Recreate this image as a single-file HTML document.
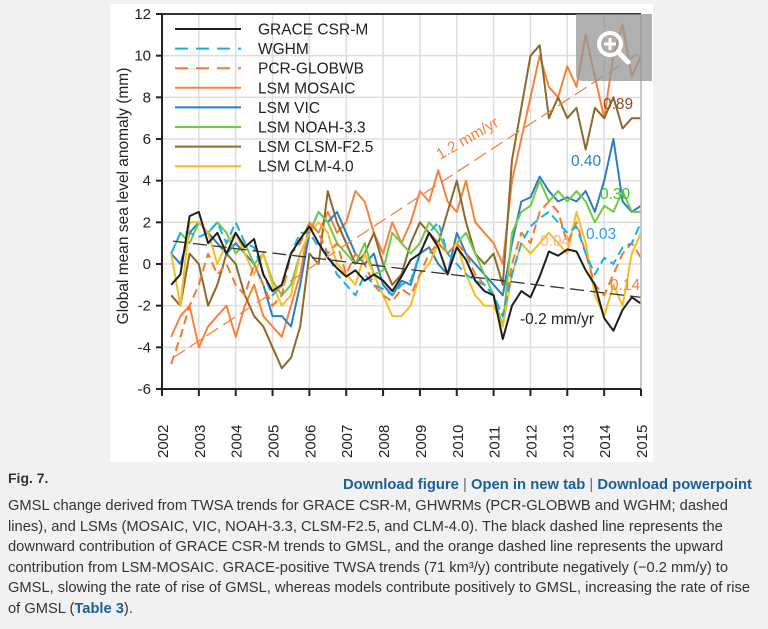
<!DOCTYPE html>
<html><head><meta charset="utf-8"><style>
body{margin:0;width:768px;height:629px;background:#f1f1f1;font-family:"Liberation Sans",Arial,sans-serif;overflow:hidden;position:relative}
#card{position:absolute;left:110px;top:4px;width:543px;height:458px;background:#fff}
svg{position:absolute;left:0;top:0}
.cap{position:absolute;left:8px;font-size:14px;color:#333;white-space:nowrap}
.lnk{color:#1a5f98;font-weight:bold}
</style></head><body>
<div id="card"></div>
<svg id="chart" width="768" height="470"></svg>
<div style="position:absolute;left:576px;top:14px;width:76px;height:67px;background:rgba(150,150,150,0.75);border-radius:0 0 0 6px">
<svg width="76" height="67"><circle cx="34" cy="30" r="11" fill="none" stroke="#fff" stroke-width="4"/><line x1="42" y1="38" x2="52" y2="48" stroke="#fff" stroke-width="5" stroke-linecap="round"/><line x1="28" y1="30" x2="40" y2="30" stroke="#fff" stroke-width="3"/><line x1="34" y1="24" x2="34" y2="36" stroke="#fff" stroke-width="3"/></svg></div>
<div class="cap" style="top:470px;font-weight:bold;font-size:14px">Fig. 7.</div>
<div class="cap" style="top:477px;left:343px;font-size:14.8px"><span class="lnk">Download figure</span> <span style="color:#666">|</span> <span class="lnk">Open in new tab</span> <span style="color:#666">|</span> <span class="lnk">Download powerpoint</span></div>
<div style="position:absolute;left:8px;top:496px;width:760px;font-size:14.7px;line-height:20.5px;color:#333">
<div style="white-space:nowrap">GMSL change derived from TWSA trends for GRACE CSR-M, GHWRMs (PCR-GLOBWB and WGHM; dashed</div>
<div style="white-space:nowrap">lines), and LSMs (MOSAIC, VIC, NOAH-3.3, CLSM-F2.5, and CLM-4.0). The black dashed line represents the</div>
<div style="white-space:nowrap">downward contribution of GRACE CSR-M trends to GMSL, and the orange dashed line represents the upward</div>
<div style="white-space:nowrap">contribution from LSM-MOSAIC. GRACE-positive TWSA trends (71 km³/y) contribute negatively (−0.2 mm/y) to</div>
<div style="white-space:nowrap">GMSL, slowing the rate of rise of GMSL, whereas models contribute positively to GMSL, increasing the rate of rise</div>
<div style="white-space:nowrap">of GMSL (<span class="lnk">Table 3</span>).</div>
</div>
<script>
const years=[2002,2003,2004,2005,2006,2007,2008,2009,2010,2011,2012,2013,2014,2015];
const yTicks=[12,10,8,6,4,2,0,-2,-4,-6];
const t0=2002.25, dt=0.25;
const grace=[-1,-0.5,2.3,2.5,1.0,1.5,0.5,1.5,0.8,1.2,-0.5,-1.3,-1.0,0.5,1.2,1.8,1.0,0.3,-0.2,-0.6,-0.3,-0.8,-0.5,-0.8,-1.3,-0.6,0.2,0.5,1.5,0.8,-0.5,0.8,0.2,-0.8,-1.3,-1.5,-3.6,-2.0,-1.3,-1.6,-0.6,0.6,0.4,0.7,0.6,-0.3,-1.0,-2.6,-3.2,-2.2,-1.6,-1.9];
const wghm=[0.5,1.5,1.5,1.3,1.5,2.0,1.0,2.0,1.0,0.8,-0.5,-1.5,-1.0,0.5,1.5,1.5,0.8,0.5,-0.5,-1.0,-1.5,-0.5,-1.0,-1.2,-1.5,-1.0,-0.8,0.5,1.5,2.0,0.5,0,-0.5,-0.8,-1.0,-1.5,-2.5,-0.5,1.0,1.8,2.2,2.5,2.0,1.5,1.8,0.5,-0.5,0.3,0.0,0.8,1.0,2.0];
const pcr=[-4.8,-3.5,-2.0,-1.0,0.5,-0.5,0.0,-1.0,-1.5,0.0,-1.0,-2.0,-1.5,0.5,1.0,2.0,1.5,0.5,1.0,-0.5,0.5,0.0,-1.0,-1.5,-1.8,-1.2,-1.5,-0.5,0.5,1.0,0.5,1.0,0.5,-0.5,-1.0,-1.5,-2.5,0.0,1.5,1.0,2.5,3.0,2.5,1.0,2.0,0.5,-1.0,-1.5,-0.5,0.5,1.0,0.3];
const mosaic=[-3.5,-2.5,-2.0,-4.0,-3.0,-2.5,-2.0,-3.5,-2.0,-1.0,-2.5,-3.0,-3.5,-2.0,-0.5,2.0,1.5,2.5,1.5,2.0,3.5,3.0,1.5,0.5,2.0,1.0,2.0,3.5,3.0,4.5,3.0,2.5,4.0,2.0,1.5,1.0,0.0,4.0,6.0,8.0,10.0,8.5,8.0,9.5,8.5,11.0,9.0,7.0,10.0,11.5,9.0,10.0];
const vic=[0.5,0.0,1.5,2.0,1.5,1.0,0.5,1.0,0.5,0.0,-1.0,-2.5,-2.5,-3.0,-1.0,1.5,2.5,2.0,2.5,1.5,0.5,0.0,0.5,-1.0,-1.5,-0.8,-1.0,0.5,0.8,0.0,-0.5,1.5,0.5,0.0,-0.5,-1.0,-1.5,1.0,3.0,3.2,4.2,3.5,3.0,3.2,3.0,3.5,2.5,4.0,6.0,3.0,2.5,2.8];
const noah=[0.5,1.5,1.0,2.0,1.5,2.0,1.5,0.5,1.0,0.0,0.5,-0.8,-1.5,-1.0,0.5,1.5,2.5,2.0,1.0,0.5,0.0,1.0,-0.5,-0.3,1.5,1.0,0.5,1.0,2.0,1.5,0.5,1.0,1.5,0.5,-0.5,-1.5,-3.0,1.5,2.5,2.8,4.0,3.0,3.5,3.0,3.5,3.0,2.0,2.8,2.5,3.5,2.5,2.5];
const clsm=[-1.5,-2.0,0.5,0.0,-2.0,-1.0,0.5,0.0,-1.5,-2.5,-3.0,-4.0,-5.0,-4.5,-3.0,0.5,0.0,3.5,2.0,1.0,0.0,0.5,1.5,0.0,-1.0,-0.5,1.0,2.0,1.5,1.0,2.5,4.0,2.0,0.5,0.0,0.5,-1.0,5.0,7.5,10.0,10.5,7.0,8.0,7.0,7.5,5.5,7.5,7.0,8.0,6.5,7.0,7.0];
const clm=[0.5,-2.0,2.0,2.0,1.5,0.0,1.0,1.5,0.5,-0.5,0.5,-1.0,-2.0,-1.5,0.5,1.5,2.0,1.5,0.0,-0.5,-1.0,0.5,-0.5,-1.5,-2.5,-2.5,-2.0,-0.5,0.0,1.0,0.5,1.0,-0.5,-1.5,-2.0,-2.0,-3.0,-0.5,1.0,0.5,1.0,1.5,1.0,0.5,2.5,1.0,-1.5,-2.5,-1.0,-2.0,0.5,1.5];
const trendGrace=[[2002.3,1.1],[2015,-1.6]];
const trendMosaic=[[2002.3,-4.5],[2015,10.2]];
const legendLabels=["GRACE CSR-M","WGHM","PCR-GLOBWB","LSM MOSAIC","LSM VIC","LSM NOAH-3.3","LSM CLSM-F2.5","LSM CLM-4.0"];
const trendLabels=["0.89","0.40","0.30","0.03","0.04","0.14"];

const NS="http://www.w3.org/2000/svg";
const svg=document.getElementById('chart');
const X0=162,X1=641,Y0=389,Y1=14,XMIN=2002,XMAX=2015,YMIN=-6,YMAX=12;
const xs=t=>X0+(t-XMIN)/(XMAX-XMIN)*(X1-X0);
const ys=v=>Y0-(v-YMIN)/(YMAX-YMIN)*(Y0-Y1);
function mk(tag,attrs,parent){const e=document.createElementNS(NS,tag);for(const k in attrs)e.setAttribute(k,attrs[k]);(parent||svg).appendChild(e);return e;}

const grid=mk('g',{});


years.forEach(y=>{mk('line',{x1:xs(y),x2:xs(y),y1:Y1,y2:Y0,stroke:'#ddd','stroke-width':1.5},grid);});
yTicks.forEach(v=>{mk('line',{x1:X0,x2:X1,y1:ys(v),y2:ys(v),stroke:'#ddd','stroke-width':1.5},grid);});

const clip=mk('clipPath',{id:'pc'});mk('rect',{x:X0,y:Y1,width:X1-X0,height:Y0-Y1},clip);
const series=[
 {n:'grace-csr-m',d:grace,c:'#1e1e1e',dash:''},
 {n:'wghm',d:wghm,c:'#19aef0',dash:'9,5'},
 {n:'pcr-globwb',d:pcr,c:'#f8782a',dash:'9,5'},
 {n:'lsm-mosaic',d:mosaic,c:'#f8823c',dash:''},
 {n:'lsm-vic',d:vic,c:'#2a7fc2',dash:''},
 {n:'lsm-noah',d:noah,c:'#6fcb45',dash:''},
 {n:'lsm-clsm',d:clsm,c:'#8b6a2b',dash:''},
 {n:'lsm-clm',d:clm,c:'#f6be22',dash:''}];
const order=[3,6,4,5,7,2,1,0];
order.forEach(i=>{const s=series[i];
 const pts=s.d.map((v,k)=>xs(t0+k*dt).toFixed(1)+','+ys(v).toFixed(1)).join(' ');
 const p=mk('polyline',{points:pts,fill:'none',stroke:s.c,'stroke-width':2,'stroke-dasharray':s.dash,'clip-path':'url(#pc)','stroke-linejoin':'round'});
 
 
});
const tg=mk('line',{x1:xs(trendGrace[0][0]),y1:ys(trendGrace[0][1]),x2:xs(trendGrace[1][0]),y2:ys(trendGrace[1][1]),stroke:'#333','stroke-width':1.3,'stroke-dasharray':'14,6'});


const tm=mk('line',{x1:xs(trendMosaic[0][0]),y1:ys(trendMosaic[0][1]),x2:xs(trendMosaic[1][0]),y2:ys(trendMosaic[1][1]),stroke:'#f8823c','stroke-width':1.3,'stroke-dasharray':'14,6','clip-path':'url(#pc)'});



const ax=mk('g',{});


mk('line',{x1:X0,x2:X1,y1:Y1,y2:Y1,stroke:'#333','stroke-width':2},ax);
mk('line',{x1:X1,x2:X1,y1:Y1,y2:Y0,stroke:'#bbb','stroke-width':1.5},ax);
mk('line',{x1:X0,x2:X0,y1:Y1,y2:Y0+1,stroke:'#222','stroke-width':2},ax);
mk('line',{x1:X0,x2:X1,y1:Y0,y2:Y0,stroke:'#222','stroke-width':2},ax);
yTicks.forEach(v=>{mk('line',{x1:X0-6,x2:X0,y1:ys(v),y2:ys(v),stroke:'#222','stroke-width':2},ax);
 const t=mk('text',{x:X0-11,y:ys(v)+5,'text-anchor':'end','font-size':15,fill:'#222'},ax);t.textContent=v;
 
 });
years.forEach(y=>{mk('line',{x1:xs(y),x2:xs(y),y1:Y0,y2:Y0+7,stroke:'#222','stroke-width':2},ax);
 const t=mk('text',{transform:`translate(${xs(y)+6},458) rotate(-90)`,'font-size':15,fill:'#222'},ax);t.textContent=y;
 
 });
const yt=mk('text',{transform:'translate(128,196) rotate(-90)','text-anchor':'middle','font-size':15.5,fill:'#222'});
yt.textContent='Global mean sea level anomaly (mm)';



const lg=mk('g',{});


legendLabels.forEach((lab,i)=>{const s=series[i];const y=29+i*19.6;
 mk('line',{x1:175,x2:241,y1:y,y2:y,stroke:s.c,'stroke-width':2,'stroke-dasharray':s.dash?'13,8':''},lg);
 const t=mk('text',{x:258,y:y+5.5,'font-size':15.5,fill:'#222'},lg);t.textContent=lab;
 
 });

const ann=[[trendLabels[0],603,109,'#8b4a2b'],[trendLabels[1],571,166,'#2a7fc2'],[trendLabels[2],600,199,'#3fc02a'],[trendLabels[3],586,239,'#2a9fe8'],[trendLabels[4],540,246,'#fbb08a'],[trendLabels[5],610,290,'#f8823c']];
ann.forEach(a=>{const t=mk('text',{x:a[1],y:a[2],'font-size':15.5,fill:a[3]});t.textContent=a[0];
 
 });
const r1=mk('text',{transform:'translate(440,160) rotate(-30)','font-size':15.5,fill:'#f8823c'});r1.textContent='1.2 mm/yr';


const r2=mk('text',{x:520,y:324,'font-size':15.5,fill:'#222'});r2.textContent='-0.2 mm/yr';


</script>
</body></html>
